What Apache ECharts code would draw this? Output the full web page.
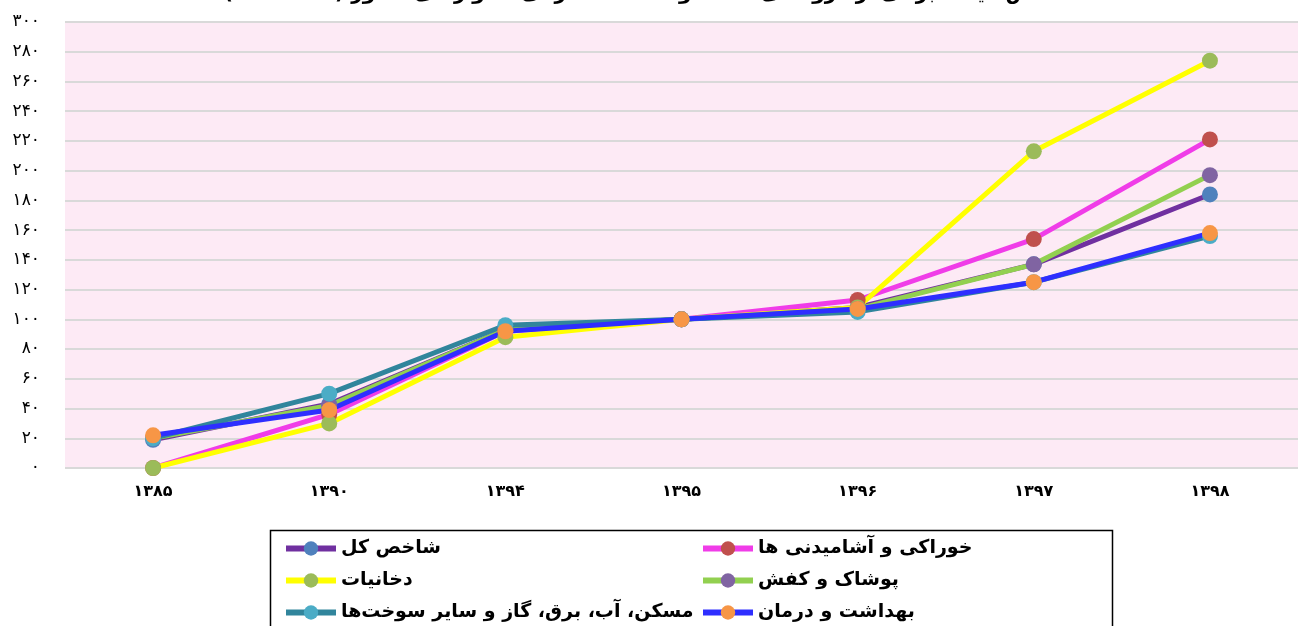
<!DOCTYPE html>
<html lang="fa">

<head>
    <meta charset="UTF-8">
    <title>شاخص قیمت</title>
    <style>
        html,
        body,
        #chart {
            width: 100%;
            height: 100%;
            margin: 0;
            padding: 0;
            background: #fff;
        }
    </style>
</head>

<body>
    <div id="chart"></div>
    <script src="https://cdn.jsdelivr.net/npm/echarts@6/dist/echarts.min.js"></script>
    <script>
        // سال‌ها (محور افقی)
        var years = ['۱۳۸۵', '۱۳۹۰', '۱۳۹۴', '۱۳۹۵', '۱۳۹۶', '۱۳۹۷', '۱۳۹۸'];

        // مقادیر هر گروه
        var kol = [19, 43, 93, 100, 108, 137, 184];
        var khoraki = [0, 36, 92, 100, 113, 154, 221];
        var dokhaniat = [0, 30, 88, 100, 108, 213, 274];
        var poushak = [20, 42, 93, 100, 107, 137, 197];
        var maskan = [20, 50, 96, 100, 105, 125, 156];
        var behdasht = [22, 39, 92, 100, 107, 125, 158];

        var names = ['شاخص کل', 'خوراکی و آشامیدنی ها', 'دخانیات', 'پوشاک و کفش',
            'مسکن، آب، برق، گاز و سایر سوخت‌ها', 'بهداشت و درمان'];

        var fontFa = '"DejaVu Sans", sans-serif';

        function toFa(v) {
            return String(v).replace(/[0-9]/g, function(d) {
                return '۰۱۲۳۴۵۶۷۸۹'[+d];
            });
        }

        function makeSeries(name, data, lineColor, dotColor) {
            return {
                name: name,
                type: 'line',
                data: data,
                symbol: 'circle',
                symbolSize: 16,
                lineStyle: { color: lineColor, width: 5 },
                itemStyle: { color: dotColor },
                emphasis: { disabled: true }
            };
        }

        // یک legend برای هر آیتم تا ستون‌ها مرتب بمانند
        function makeLegend(name, left, top) {
            return {
                left: left,
                top: top,
                itemWidth: 50,
                itemHeight: 18,
                data: [name],
                lineStyle: { width: 6 },
                textStyle: { fontFamily: fontFa, fontSize: 19, fontWeight: 'bold', color: '#000' }
            };
        }

        var chart = echarts.init(document.getElementById('chart'));

        chart.setOption({
            animation: false,
            title: {
                text: 'شاخص قیمت برخی از گروه‌های کالاها و خدمات مصرفی خانوارهای کشور (۱۳۹۵=۱۰۰)',
                left: 'center',
                top: -21,
                textStyle: { fontFamily: fontFa, fontSize: 20, fontWeight: 'bold', color: '#000' }
            },
            grid: {
                left: 65,
                right: 0,
                top: 22,
                bottom: 158,
                show: true,
                backgroundColor: '#FDEAF5',
                borderWidth: 0
            },
            graphic: [{
                type: 'rect',
                left: 268,
                top: 528,
                shape: { width: 842, height: 110 },
                style: { fill: 'none', stroke: '#000', lineWidth: 1.5 }
            }],
            legend: [
                makeLegend(names[0], 278, 534),
                makeLegend(names[2], 278, 566),
                makeLegend(names[4], 278, 598),
                makeLegend(names[1], 695, 534),
                makeLegend(names[3], 695, 566),
                makeLegend(names[5], 695, 598)
            ],
            xAxis: {
                type: 'category',
                data: years,
                axisLine: { show: false },
                axisTick: { show: false },
                axisLabel: {
                    margin: 16,
                    fontFamily: fontFa,
                    fontSize: 16,
                    fontWeight: 'bold',
                    color: '#000'
                }
            },
            yAxis: {
                type: 'value',
                min: 0,
                max: 300,
                interval: 20,
                axisLine: { show: false },
                axisTick: { show: false },
                splitLine: { lineStyle: { color: '#D9D9D9', width: 2 } },
                axisLabel: {
                    margin: 25,
                    fontFamily: fontFa,
                    fontSize: 17,
                    color: '#000',
                    formatter: function(v) { return toFa(v); }
                }
            },
            series: [
                makeSeries(names[0], kol, '#7030A0', '#4F81BD'),
                makeSeries(names[1], khoraki, '#F03CE8', '#C0504D'),
                makeSeries(names[2], dokhaniat, '#FFFF00', '#9BBB59'),
                makeSeries(names[3], poushak, '#92D050', '#8064A2'),
                makeSeries(names[4], maskan, '#31859C', '#4BACC6'),
                makeSeries(names[5], behdasht, '#2E2EFF', '#F79646')
            ]
        });
    </script>
</body>

</html>
